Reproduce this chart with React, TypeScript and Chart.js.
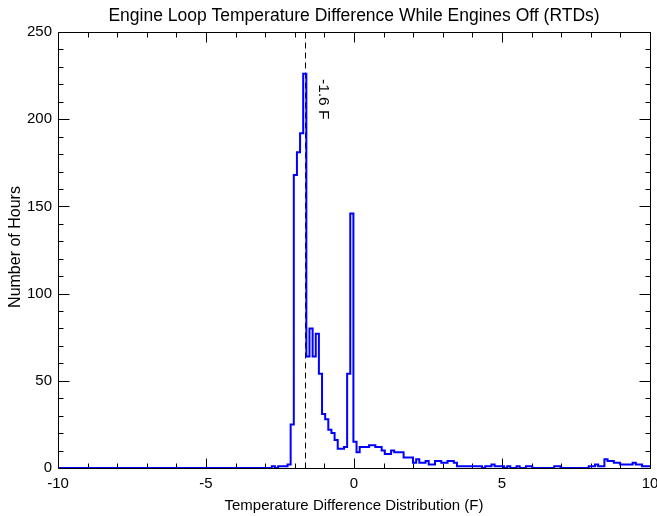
import React, { useEffect, useRef } from "react";
import { Chart, registerables } from "chart.js";

Chart.register(...registerables);

const chartTitle = "Engine Loop Temperature Difference While Engines Off (RTDs)";
const xAxisTitle = "Temperature Difference Distribution (F)";
const yAxisTitle = "Number of Hours";

const xMin = -10;
const xMax = 10;
const yMin = 0;
const yMax = 250;
const xMajorStep = 5;
const xMinorStep = 1;
const yMajorStep = 50;
const yMinorStep = 10;

// histogram bins (left edge of first bin, bin width) and hours per bin
const binStart = -2.776;
const binWidth = 0.106;
const hours = [
  1, 0, 1, 1, 1, 2, 25, 168, 181, 192,
  226, 64, 80, 64, 77, 54, 31, 28, 22, 20,
  16, 11, 11, 12, 54, 146, 15, 9, 12, 12,
  12, 13, 13, 12, 12, 10, 8, 8, 10, 9,
  9, 9, 6, 6, 6, 3, 5, 3, 3, 4,
  2, 2, 4, 4, 3, 3, 4, 4, 3, 1,
  1, 1, 1, 1, 1, 1, 1, 0, 1, 1,
  2, 1, 1, 1, 0, 1, 0, 0, 1, 0,
  0, 1, 1, 0, 0, 0, 0, 0, 0, 0,
  1, 1, 0, 0, 0, 0, 0, 0, 0, 0,
  0, 1, 1, 2, 1, 1, 5, 4, 4, 3,
  3, 2, 2, 2, 2, 3, 2, 2, 1, 1,
  1,
];

const markerValue = -1.65;
const markerLabel = "-1.6 F";

const FONT = "'Liberation Sans', Arial, Helvetica, sans-serif";

const decorPlugin = {
  id: "decor",
  beforeDatasetsDraw(chart: any) {
    const { ctx, chartArea: a, scales } = chart;
    const xs = scales.x;
    const ys = scales.y;
    const L = Math.round(a.left) + 0.5;
    const R = Math.round(a.right) + 0.5;
    const T = Math.round(a.top) + 0.5;
    const B = Math.round(a.bottom) + 0.5;
    ctx.save();
    ctx.strokeStyle = "#000";
    ctx.lineWidth = 1;
    ctx.beginPath();
    ctx.rect(L, T, R - L, B - T);
    ctx.stroke();
    // x ticks (bottom & top, inward)
    for (let v = xMin; v <= xMax + 1e-9; v += xMinorStep) {
      const major = Math.abs(v / xMajorStep - Math.round(v / xMajorStep)) < 1e-6;
      const len = major ? 10 : 5;
      const px = Math.round(xs.getPixelForValue(v)) + 0.5;
      ctx.beginPath();
      ctx.moveTo(px, B);
      ctx.lineTo(px, B - len);
      ctx.moveTo(px, T);
      ctx.lineTo(px, T + len);
      ctx.stroke();
    }
    for (let v = yMin; v <= yMax + 1e-9; v += yMinorStep) {
      const major = Math.abs(v / yMajorStep - Math.round(v / yMajorStep)) < 1e-6;
      const len = major ? 11 : 5;
      const py = Math.round(ys.getPixelForValue(v)) + 0.5;
      ctx.beginPath();
      ctx.moveTo(L, py);
      ctx.lineTo(L + len, py);
      ctx.moveTo(R, py);
      ctx.lineTo(R - len, py);
      ctx.stroke();
    }
    // dashed marker line
    const mx = Math.round(xs.getPixelForValue(markerValue)) + 0.5;
    ctx.setLineDash([6, 4]);
    ctx.beginPath();
    ctx.moveTo(mx, T);
    ctx.lineTo(mx, B);
    ctx.stroke();
    ctx.restore();
  },
  afterDraw(chart: any) {
    const { ctx, chartArea: a, scales } = chart;
    const xs = scales.x;
    const cx = (a.left + a.right) / 2;
    const cy = (a.top + a.bottom) / 2;
    ctx.save();
    ctx.fillStyle = "#000";
    ctx.textAlign = "center";
    ctx.textBaseline = "middle";
    ctx.font = `17.5px ${FONT}`;
    ctx.fillText(chartTitle, cx, 16);
    ctx.font = `15px ${FONT}`;
    ctx.fillText(xAxisTitle, cx, 506);
    ctx.save();
    ctx.translate(16, cy - 3);
    ctx.rotate(-Math.PI / 2);
    ctx.font = `16px ${FONT}`;
    ctx.fillText(yAxisTitle, 0, 0);
    ctx.restore();
    // marker label, rotated clockwise
    const mx = xs.getPixelForValue(markerValue);
    ctx.save();
    ctx.translate(mx + 18, a.top + 47);
    ctx.rotate(Math.PI / 2);
    ctx.textAlign = "left";
    ctx.font = `15.5px ${FONT}`;
    ctx.fillText(markerLabel, 0, 0);
    ctx.restore();
    ctx.restore();
  },
};

export default function App() {
  const canvasRef = useRef<HTMLCanvasElement | null>(null);

  useEffect(() => {
    if (!canvasRef.current) return;
    const points: { x: number; y: number }[] = [{ x: xMin, y: 0 }];
    hours.forEach((h, i) => points.push({ x: binStart + i * binWidth, y: h }));
    points.push({ x: binStart + hours.length * binWidth, y: hours[hours.length - 1] });

    const chart = new Chart(canvasRef.current, {
      type: "line",
      data: {
        datasets: [
          {
            data: points,
            borderColor: "#0000ff",
            borderWidth: 2,
            pointRadius: 0,
            stepped: true,
            fill: false,
            tension: 0,
          },
        ],
      },
      options: {
        animation: false,
        responsive: false,
        devicePixelRatio: 1,
        layout: { padding: { top: 32, right: 7, left: 0, bottom: 0 } },
        plugins: {
          legend: { display: false },
          title: { display: false },
          tooltip: { enabled: false },
        },
        scales: {
          x: {
            type: "linear",
            min: xMin,
            max: xMax,
            grid: { display: false, drawTicks: false },
            border: { display: false },
            ticks: {
              stepSize: xMajorStep,
              color: "#000",
              font: { family: FONT, size: 15 },
              padding: 7,
              maxRotation: 0,
            },
            afterFit: (s: any) => {
              s.height = 48;
              s.paddingLeft = 0;
              s.paddingRight = 0;
            },
          },
          y: {
            type: "linear",
            min: yMin,
            max: yMax,
            grid: { display: false, drawTicks: false },
            border: { display: false },
            ticks: {
              stepSize: yMajorStep,
              color: "#000",
              font: { family: FONT, size: 15 },
              padding: 6,
            },
            afterFit: (s: any) => {
              s.width = 58;
              s.paddingTop = 0;
              s.paddingBottom = 0;
            },
          },
        },
      },
      plugins: [decorPlugin],
    });
    return () => chart.destroy();
  }, []);

  return (
    <div style={{ position: "absolute", left: 0, top: 0, width: 657, height: 516, background: "#fff" }}>
      <canvas ref={canvasRef} width={657} height={516} />
    </div>
  );
}
